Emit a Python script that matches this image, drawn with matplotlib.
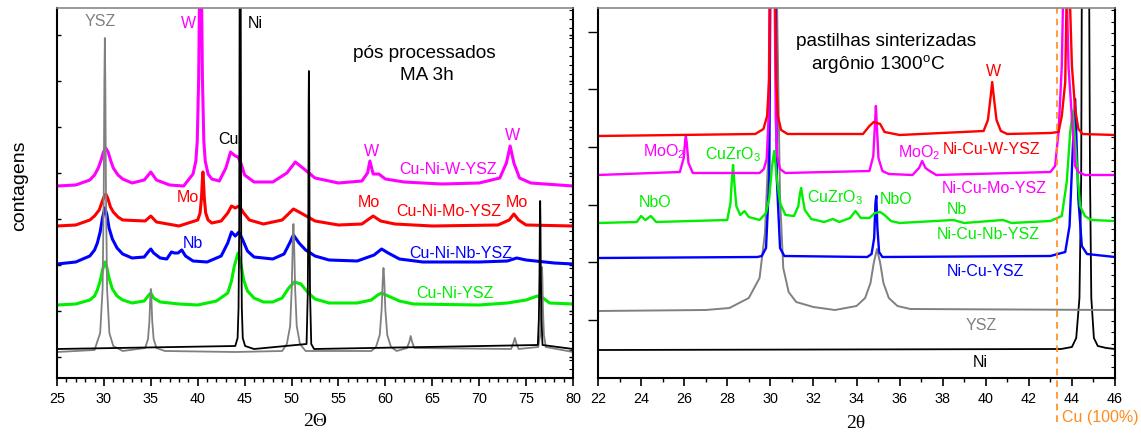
import matplotlib
matplotlib.use("Agg")
import matplotlib.pyplot as plt
from matplotlib.ticker import MultipleLocator, FixedLocator

plt.rcParams['font.family'] = ['Liberation Sans', 'DejaVu Sans']

# ---------------- LEFT PANEL DATA (pós processados MA 3h) ----------------
L_ni_x = [25, 44.0, 44.25, 44.35, 44.42, 44.47, 44.58, 44.63, 44.7, 44.8, 45.05, 46,
          51.6, 51.73, 51.79, 51.82, 51.85, 51.88, 51.91, 51.97, 52.1, 52.4,
          76.25, 76.36, 76.43, 76.47, 76.5, 76.53, 76.57, 76.64, 76.75, 80]
L_ni_y = [29, 32, 40, 70, 150, 390, 390, 150, 70, 40, 32, 29,
          34, 85, 168, 270, 307, 270, 168, 85, 34, 29,
          33, 59, 103, 157, 177, 157, 103, 59, 33, 29]

L_ysz_x = [25, 29.0, 29.6, 29.86, 29.98, 30.05, 30.1, 30.15, 30.22, 30.34, 30.58, 31.0, 32,
           34.4, 34.7, 34.85, 34.94, 35.0, 35.06, 35.15, 35.3, 35.6, 36.5,
           44.0, 49.0, 49.5, 49.85, 50.02, 50.13, 50.2, 50.27, 50.38, 50.55, 50.9, 51.5,
           58.5, 59.0, 59.4, 59.6, 59.72, 59.8, 59.88, 60.0, 60.2, 60.6, 61.2,
           62.3, 62.55, 62.7, 62.85, 63.1, 73.4, 73.65, 73.8, 73.95, 74.2,
           76.3, 76.5, 76.6, 76.66, 76.7, 76.74, 76.8, 76.9, 77.1, 80]
L_ysz_y = [26, 28, 45, 89, 183, 296, 340, 296, 183, 89, 45, 32, 27,
           30, 39, 57, 80, 89, 80, 57, 39, 30, 27,
           26, 27, 34, 52, 90, 136, 154, 136, 90, 52, 34, 27,
           27, 31, 43, 68, 98, 110, 98, 68, 43, 31, 27,
           30, 36, 42, 36, 30, 29, 35, 40, 35, 29,
           31, 43, 68, 99, 111, 99, 68, 43, 31, 26]

L_cuni_x = [25, 27, 28.5, 29.0, 29.3, 29.6, 29.85, 30.1, 30.3, 30.55, 30.9, 31.4, 32, 33, 34.3, 34.7,
            35.0, 35.3, 36, 38, 40, 42, 43.2, 43.6, 43.9, 44.3, 44.6, 44.9, 45.3, 46, 47, 48, 49,
            49.7, 50.3, 51.0, 51.7, 52.5, 54, 57, 58.5, 59.2, 59.6, 60.3, 61.5, 63, 70, 73, 75,
            76.2, 76.8, 77.5, 80]
L_cuni_y = [73, 74, 78, 82, 88, 97, 108, 116, 111, 100, 89, 82, 78, 75, 77, 82,
            85, 80, 76, 74, 73, 77, 85, 97, 112, 125, 114, 98, 87, 80, 76, 76, 80,
            90, 96, 94, 86, 79, 75, 75, 78, 83, 85, 82, 77, 74, 73, 75, 78,
            82, 80, 75, 74]

L_nb_x = [25, 27, 28.5, 29.0, 29.3, 29.6, 29.85, 30.1, 30.3, 30.55, 30.9, 31.4, 32, 33, 34.3, 34.8,
          35.0, 35.3, 36.0, 36.7, 37.2, 37.5, 37.9, 38.3, 38.7, 39.5, 41, 42.5, 43.2, 43.6, 44.0,
          44.4, 44.8, 45.3, 46, 48, 49.2, 49.8, 50.2, 50.8, 51.5, 52.5, 54, 57, 58.8, 59.6, 60.3,
          61.5, 64, 70, 73, 74, 75, 78, 80]
L_nb_y = [114, 116, 122, 128, 135, 146, 160, 170, 164, 150, 139, 130, 124, 120, 121, 127,
          129, 125, 120, 119, 126, 125, 125, 128, 122, 117, 116, 122, 135, 146, 142,
          146, 138, 127, 121, 119, 124, 135, 143, 135, 128, 122, 118, 117, 123, 129, 125,
          119, 116, 116, 117, 120, 118, 115, 114]

L_mo_x = [25, 27, 28.5, 29.0, 29.5, 29.8, 30.0, 30.2, 30.4, 30.7, 31.0, 31.5, 32, 34.4, 35.0, 35.6,
          38, 40.0, 40.25, 40.4, 40.5, 40.55, 40.6, 40.7, 40.85, 41.1, 41.5, 42.5, 43.2, 43.6,
          44.0, 44.4, 44.9, 45.5, 47, 49, 50.2, 51, 52.5, 55, 57.5, 58.7, 59.5, 61, 65, 72, 73.2,
          73.7, 74.2, 75, 80]
L_mo_y = [152, 153, 158, 162, 168, 176, 181, 184, 180, 171, 166, 161, 158, 157, 162, 156,
          152, 158, 165, 180, 199, 206, 199, 180, 165, 158, 155, 157, 165, 172,
          170, 172, 165, 158, 154, 158, 169, 165, 157, 153, 154, 162, 157, 154, 152, 153, 158,
          164, 158, 153, 152]

L_w_x = [25, 27, 28.5, 29.0, 29.4, 29.7, 29.95, 30.2, 30.45, 30.7, 31.0, 31.5, 32, 33, 34.3, 35.0,
         35.6, 37, 38.5, 39.5, 39.8, 39.95, 40.1, 40.2, 40.4, 40.5, 40.65, 40.8, 41.1, 41.5, 42.3,
         43.0, 43.5, 44.0, 44.3, 44.6, 45.0, 46, 48, 49.5, 50.4, 51.2, 52.5, 55, 57.5, 58.1,
         58.35, 58.7, 59.3, 60, 62, 66, 70, 72.2, 72.9, 73.3, 73.7, 74.3, 75.5, 80]
L_w_y = [192, 193, 198, 203, 210, 218, 226, 230, 226, 218, 210, 203, 199, 195, 198, 206,
         198, 193, 192, 204, 217, 237, 300, 390, 390, 300, 237, 217, 204, 199, 197,
         210, 226, 222, 221, 215, 203, 196, 196, 205, 216, 210, 200, 195, 197, 205,
         217, 204, 204, 199, 196, 194, 195, 200, 215, 232, 215, 200, 195, 192]

# ---------------- RIGHT PANEL DATA (pastilhas sinterizadas) ----------------
R_ni_x = [22, 43.5, 44.0, 44.2, 44.35, 44.43, 44.46, 44.8, 44.84, 44.9, 45.02, 45.2, 45.6, 46]
R_ni_y = [28, 29, 31, 40, 80, 200, 390, 390, 200, 80, 40, 32, 30, 29]

R_ysz_x = [22, 27, 28.1, 29.0, 29.5, 29.75, 29.9, 30.0, 30.3, 30.45, 30.6, 30.85, 31.2, 32, 33,
           34.0, 34.4, 34.65, 34.8, 34.95, 35.1, 35.25, 35.5, 35.9, 36.5, 46]
R_ysz_y = [67, 68, 70, 80, 100, 145, 220, 390, 390, 180, 110, 86, 76, 71, 68,
           72, 80, 95, 115, 129, 115, 95, 80, 72, 69, 68]

R_nicu_x = [22, 29.4, 29.6, 29.8, 29.95, 30.0, 30.25, 30.3, 30.45, 30.65, 34.5, 34.7, 34.82, 34.88,
            34.92, 34.97, 35.05, 35.2, 43.0, 43.69, 43.89, 44.04, 44.15, 44.3, 44.46, 44.7, 46]
R_nicu_y = [120, 121, 122, 130, 200, 390, 390, 200, 130, 122, 121, 124, 140, 175,
            182, 150, 126, 121, 122, 126, 152, 229, 279, 179, 132, 124, 121]

R_nb_x = [22, 23.8, 24.0, 24.2, 24.45, 24.7, 28.0, 28.15, 28.22, 28.27, 28.33, 28.42, 28.6, 28.8,
          29.0, 29.5, 29.8, 29.95, 30.07, 30.18, 30.3, 30.45, 30.7, 31.1, 31.3, 31.38, 31.43, 31.5,
          31.6, 31.9, 32.5, 32.9, 33.2, 33.7, 33.95, 34.2, 34.6, 34.85, 35.1, 35.3, 35.6, 36, 38.5,
          39, 40.8, 41.2, 43.0, 43.53, 43.76, 43.92, 44.04, 44.23, 44.38, 44.6, 44.9, 46]
R_nb_y = [155, 156, 162, 158, 162, 156, 158, 175, 200, 213, 195, 172, 163, 167,
          161, 158, 165, 180, 210, 227, 200, 175, 163, 162, 172, 185, 190, 180,
          168, 159, 156, 159, 156, 160, 167, 160, 160, 165, 166, 163, 157, 155, 158,
          155, 158, 155, 157, 162, 196, 246, 267, 212, 172, 162, 158, 157]

R_mo_x = [22, 25.8, 25.98, 26.05, 26.08, 26.12, 26.2, 26.4, 29.5, 29.7, 29.83, 29.92, 29.97, 30.2,
          30.25, 30.32, 30.45, 30.7, 34.6, 34.78, 34.86, 34.9, 34.95, 35.02, 35.2, 35.5, 36.6, 36.9,
          37.05, 37.2, 37.4, 37.7, 43.0, 43.22, 43.38, 43.53, 43.6, 43.76, 43.84, 44.0, 44.15,
          44.3, 44.6, 46]
R_mo_y = [203, 206, 220, 238, 242, 235, 215, 205, 205, 209, 219, 260, 390, 390,
          260, 222, 209, 205, 207, 222, 255, 272, 250, 220, 207, 204, 203, 210,
          217, 210, 207, 203, 206, 212, 246, 312, 390, 390, 312, 260, 212,
          206, 203, 203]

R_w_x = [22, 29.3, 29.68, 29.85, 29.95, 29.98, 30.22, 30.27, 30.35, 30.5, 30.8, 34.3, 34.6, 34.8,
         35.1, 35.3, 36, 39.9, 40.1, 40.22, 40.3, 40.38, 40.5, 40.7, 41, 43.0, 43.38, 43.53,
         43.69, 43.76, 43.89, 44.0, 44.15, 44.3, 44.5, 46]
R_w_y = [242, 244, 249, 262, 300, 390, 390, 300, 262, 248, 244, 244, 252, 256,
         254, 246, 243, 247, 258, 280, 296, 280, 258, 247, 244, 245, 246, 262,
         296, 390, 390, 312, 269, 249, 244, 243]

cu_line_x = 43.31

# ---------------- FIGURE ----------------
fig = plt.figure(figsize=(11.41, 4.35), dpi=100)
axL = fig.add_axes([57/1141, 1-379/435, (573-57)/1141, 370/435])
axR = fig.add_axes([598/1141, 1-379/435, (1115-598)/1141, 370/435])

GREEN = '#00ee00'
MAG = '#ff00ff'

for xs, ys, c, w in [(L_cuni_x, L_cuni_y, GREEN, 2.2), (L_nb_x, L_nb_y, 'blue', 2.2),
                     (L_mo_x, L_mo_y, 'red', 2.2), (L_w_x, L_w_y, MAG, 2.2),
                     (L_ysz_x, L_ysz_y, 'gray', 1.3), (L_ni_x, L_ni_y, 'black', 1.3)]:
    axL.plot(xs, ys, color=c, lw=w)

for xs, ys, c, w in [(R_ni_x, R_ni_y, 'black', 1.3), (R_ysz_x, R_ysz_y, 'gray', 1.4),
                     (R_nicu_x, R_nicu_y, 'blue', 1.7), (R_nb_x, R_nb_y, GREEN, 1.7),
                     (R_mo_x, R_mo_y, MAG, 1.7), (R_w_x, R_w_y, 'red', 1.7)]:
    axR.plot(xs, ys, color=c, lw=w)

axR.plot([cu_line_x, cu_line_x], [-44, 370], color='#ff8c1a', lw=1.2, ls=(0, (4, 3)), clip_on=False)

axL.set_xlim(25, 80)
axR.set_xlim(22, 46)
for ax in (axL, axR):
    ax.set_ylim(0, 370)
    for s in ('left', 'right', 'bottom'):
        ax.spines[s].set_linewidth(1.5)
        ax.spines[s].set_color('black')
    ax.spines['top'].set_color('#888888')
    ax.spines['top'].set_linewidth(1.2)
    ax.tick_params(axis='x', which='major', direction='out', length=6, width=1.2, labelsize=10.4, top=False)
    ax.tick_params(axis='x', which='minor', direction='out', length=3, width=1.0, top=False)

axL.xaxis.set_major_locator(MultipleLocator(5))
axL.xaxis.set_minor_locator(MultipleLocator(1))
axR.xaxis.set_major_locator(MultipleLocator(2))
axR.xaxis.set_minor_locator(MultipleLocator(1))

axL.yaxis.set_major_locator(FixedLocator([21, 67, 113, 159, 205, 251, 297, 343]))
axL.yaxis.set_minor_locator(MultipleLocator(9.2))
axL.tick_params(axis='y', which='major', direction='in', length=3, width=1.0, left=True, right=True,
                labelleft=False)
axL.tick_params(axis='y', which='minor', direction='in', length=3, width=0.8, left=False, right=True)

axR.yaxis.set_major_locator(FixedLocator([58, 116, 173, 231, 289, 346]))
axR.yaxis.set_minor_locator(MultipleLocator(11.5))
axR.tick_params(axis='y', which='major', direction='out', length=7, width=1.0, left=True, right=False,
                labelleft=False)
axR.tick_params(axis='y', which='minor', direction='in', length=3, width=0.8, left=False, right=True)

# ---------------- TEXT ----------------
fs = 11.5
big = 13.7
def t(ax, x, y, s, c, size=fs, **kw):
    ax.text(x, y, s, color=c, fontsize=size, ha=kw.pop('ha', 'center'), va='center', **kw)

t(axL, 29.6, 358, 'YSZ', 'gray')
t(axL, 39.0, 356, 'W', MAG)
t(axL, 46.1, 356, 'Ni', 'black')
t(axL, 43.3, 239, 'Cu', 'black')
t(axL, 39.0, 181, 'Mo', 'red')
t(axL, 39.5, 135, 'Nb', 'blue')
t(axL, 64.2, 325, 'pós processados', 'black', big)
t(axL, 64.4, 303, 'MA 3h', 'black', big)
t(axL, 58.5, 228, 'W', MAG)
t(axL, 66.7, 209, 'Cu-Ni-W-YSZ', MAG)
t(axL, 73.6, 243, 'W', MAG)
t(axL, 58.2, 176, 'Mo', 'red')
t(axL, 66.8, 167, 'Cu-Ni-Mo-YSZ', 'red')
t(axL, 74.0, 176, 'Mo', 'red')
t(axL, 68.0, 126, 'Cu-Ni-Nb-YSZ', 'blue')
t(axL, 67.4, 86, 'Cu-Ni-YSZ', GREEN)

t(axR, 35.37, 337, 'pastilhas sinterizadas', 'black', big)
t(axR, 35.0, 314, 'argônio 1300$^\\mathregular{o}$C', 'black', big)
t(axR, 40.34, 308, 'W', 'red')
t(axR, 40.29, 229, 'Ni-Cu-W-YSZ', 'red')
t(axR, 25.06, 227, 'MoO$_\\mathregular{2}$', MAG)
t(axR, 28.27, 224, 'CuZrO$_\\mathregular{3}$', GREEN)
t(axR, 36.9, 226, 'MoO$_\\mathregular{2}$', MAG)
t(axR, 40.38, 190, 'Ni-Cu-Mo-YSZ', MAG)
t(axR, 24.65, 176, 'NbO', GREEN)
t(axR, 33.0, 181, 'CuZrO$_\\mathregular{3}$', GREEN)
t(axR, 35.83, 179, 'NbO', GREEN)
t(axR, 38.67, 169, 'Nb', GREEN)
t(axR, 40.1, 144, 'Ni-Cu-Nb-YSZ', GREEN)
t(axR, 39.97, 108, 'Ni-Cu-YSZ', 'blue')
t(axR, 39.78, 53, 'YSZ', 'gray')
t(axR, 39.73, 16, 'Ni', 'black')
axR.text(43.54, -39, 'Cu (100%)', color='#ff8c1a', fontsize=fs, ha='left', va='center', clip_on=False)

fig.text(20/1141, 1-186/435, 'contagens', rotation=90, fontsize=14, ha='center', va='center')
fig.text(315/1141, 1-422/435, '2Θ', fontsize=14, ha='center', va='center', family=['Liberation Serif', 'DejaVu Serif'])
fig.text(856/1141, 1-424/435, '2θ', fontsize=14, ha='center', va='center', family=['Liberation Serif', 'DejaVu Serif'])

fig.savefig('out.png', dpi=100)
